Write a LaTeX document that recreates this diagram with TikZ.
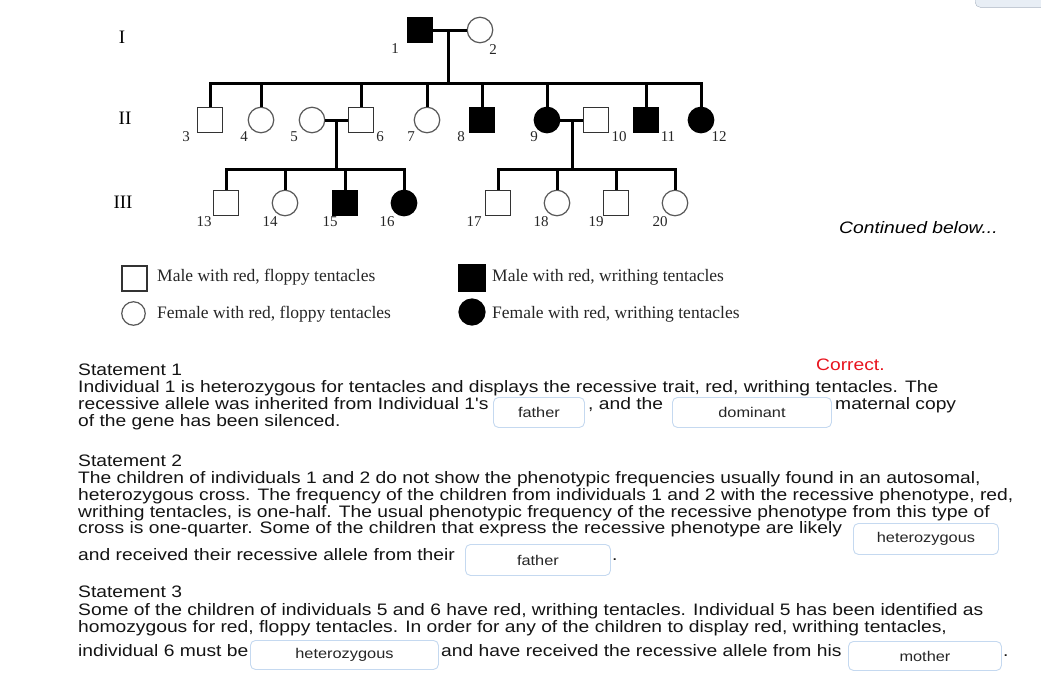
\documentclass[tikz,border=0pt]{standalone}
\usepackage{fontspec}
\setmainfont{Liberation Serif}
\newfontfamily\arialf[FakeStretch=1.16]{Liberation Sans}
\definecolor{boxblue}{HTML}{C5D9F0}
\definecolor{okred}{HTML}{E8141E}
\definecolor{btnfill}{HTML}{E8EEF5}
\definecolor{btnline}{HTML}{A9B3C0}
\begin{document}
\begin{tikzpicture}[x=1pt,y=-1pt,
  male/.style={rectangle,draw=black!80,line width=1.2pt,minimum size=25.5pt,inner sep=0pt,fill=white},
  female/.style={circle,draw=black!65,line width=1.2pt,minimum size=25.5pt,inner sep=0pt,fill=white},
  aff/.style={fill=black,draw=black},
  num/.style={font=\fontsize{15}{15}\selectfont,text=black!85,inner sep=0pt},
  gen/.style={font=\fontsize{19}{19}\selectfont,inner sep=0pt},
  link/.style={line width=3pt},
  legtext/.style={font=\fontsize{17.5}{17.5}\selectfont,text=black!85,anchor=base west,inner sep=0pt},
  stm/.style={font=\arialf\fontsize{16.6}{16.6}\selectfont,anchor=base west,inner sep=0pt,text=black!92},
  ansbox/.style={draw=boxblue,line width=0.9pt,rounded corners=5pt,fill=white,anchor=north west,
    inner sep=0pt,font=\arialf\fontsize{14.1}{14.1}\selectfont,text=black!85}
]
\useasboundingbox (0,0) rectangle (1041,681);
% top-right button fragment
\node[draw=btnline,fill=btnfill,rounded corners=5pt,minimum width=80pt,minimum height=16pt,anchor=south west,inner sep=0pt] (btn) at (975,7.5) {};
% generation labels
\node[gen] (gI) at (122,37) {I};
\node[gen] (gII) at (125,118) {II};
\node[gen] (gIII) at (123,202) {III};
% generation I
\node[male,aff] (p1) at (420,30) {};
\node[female] (p2) at (480,30) {};
% generation II
\node[male] (p3) at (210,120) {};
\node[female] (p4) at (261,120) {};
\node[female] (p5) at (312,120) {};
\node[male] (p6) at (361,120) {};
\node[female] (p7) at (427,120) {};
\node[male,aff] (p8) at (482,120) {};
\node[female,aff] (p9) at (547,120) {};
\node[male] (p10) at (596,120) {};
\node[male,aff] (p11) at (646,120) {};
\node[female,aff] (p12) at (701,120) {};
% generation III
\node[male] (p13) at (226,203) {};
\node[female] (p14) at (285,203) {};
\node[male,aff] (p15) at (345,203) {};
\node[female,aff] (p16) at (404,203) {};
\node[male] (p17) at (498,203) {};
\node[female] (p18) at (557,203) {};
\node[male] (p19) at (616,203) {};
\node[female] (p20) at (675,203) {};
% numbers
\node[num] (n1) at (395,49) {1};
\node[num] (n2) at (493,50) {2};
\node[num] (n3) at (186,137) {3};
\node[num] (n4) at (244,137) {4};
\node[num] (n5) at (294,137) {5};
\node[num] (n6) at (380,137) {6};
\node[num] (n7) at (411,137) {7};
\node[num] (n8) at (461,137) {8};
\node[num] (n9) at (534,137) {9};
\node[num] (n10) at (619,137) {10};
\node[num] (n11) at (668,137) {11};
\node[num] (n12) at (719,137) {12};
\node[num] (n13) at (204,222) {13};
\node[num] (n14) at (270,222) {14};
\node[num] (n15) at (330,222) {15};
\node[num] (n16) at (387,222) {16};
\node[num] (n17) at (474,222) {17};
\node[num] (n18) at (541,222) {18};
\node[num] (n19) at (596,222) {19};
\node[num] (n20) at (660,222) {20};
% connectors
\coordinate (m12) at (448,30);
\coordinate (j1) at (448,83);
\draw[link] (p1.east) -- (p2.west);
\draw[link] (m12) -- (j1);
\draw[link] (p3.north) |- (j1) -| (p12.north);
\foreach \k in {4,6,7,8,9,11} \draw[link] (p\k.north) -- (p\k.north |- j1);
\coordinate (m56) at (336,120);
\coordinate (j2) at (336,169);
\draw[link] (p5.east) -- (p6.west);
\draw[link] (m56) -- (j2);
\draw[link] (p13.north) |- (j2) -| (p16.north);
\foreach \k in {14,15} \draw[link] (p\k.north) -- (p\k.north |- j2);
\coordinate (m910) at (572,120);
\coordinate (j3) at (572,169);
\draw[link] (p9.east) -- (p10.west);
\draw[link] (m910) -- (j3);
\draw[link] (p17.north) |- (j3) -| (p20.north);
\foreach \k in {18,19} \draw[link] (p\k.north) -- (p\k.north |- j3);
% continued
\node[font=\arialf\itshape\fontsize{16.6}{16.6}\selectfont,anchor=base west,inner sep=0pt] (cont) at (839,233) {Continued below...};
% legend
\node[male,minimum size=25pt] (lg1) at (134.5,278.5) {};
\node[female,minimum size=23.5pt] (lg2) at (133.5,313.5) {};
\node[male,aff,minimum size=26pt] (lg3) at (472,278) {};
\node[female,aff,minimum size=26pt] (lg4) at (472,312) {};
\node[legtext] (lt1) at (157,281) {Male with red, floppy tentacles};
\node[legtext] (lt2) at (157,318) {Female with red, floppy tentacles};
\node[legtext] (lt3) at (492,281) {Male with red, writhing tentacles};
\node[legtext] (lt4) at (492,318) {Female with red, writhing tentacles};
% statement 1
\node[stm] (s1h) at (78,375) {Statement 1};
\node[stm,text=okred] (ok) at (816,370) {Correct.};
\node[stm] (s1a) at (78,392) {Individual 1 is heterozygous for tentacles and displays the recessive trait, red, writhing tentacles. The};
\node[stm] (s1b) at (78,409) {recessive allele was inherited from Individual 1's};
\node[ansbox,minimum width=91pt,minimum height=30pt] (b1) at (493,397) {father};
\node[stm] (s1c) at (588,409) {, and the};
\node[ansbox,minimum width=159pt,minimum height=30pt] (b2) at (672,397) {dominant};
\node[stm] (s1d) at (835,409) {maternal copy};
\node[stm] (s1e) at (78,426) {of the gene has been silenced.};
% statement 2
\node[stm] (s2h) at (78,466) {Statement 2};
\node[stm] (s2a) at (78,483) {The children of individuals 1 and 2 do not show the phenotypic frequencies usually found in an autosomal,};
\node[stm] (s2b) at (78,500) {heterozygous cross. The frequency of the children from individuals 1 and 2 with the recessive phenotype, red,};
\node[stm] (s2c) at (78,517) {writhing tentacles, is one-half. The usual phenotypic frequency of the recessive phenotype from this type of};
\node[stm] (s2d) at (78,533) {cross is one-quarter. Some of the children that express the recessive phenotype are likely};
\node[ansbox,minimum width=145pt,minimum height=31pt] (b3) at (853,523) {heterozygous};
\node[stm] (s2e) at (78,560) {and received their recessive allele from their};
\node[ansbox,minimum width=145pt,minimum height=31pt] (b4) at (465,544) {father};
\node[stm] (s2f) at (612,560) {.};
% statement 3
\node[stm] (s3h) at (78,597) {Statement 3};
\node[stm] (s3a) at (78,615) {Some of the children of individuals 5 and 6 have red, writhing tentacles. Individual 5 has been identified as};
\node[stm] (s3b) at (78,632) {homozygous for red, floppy tentacles. In order for any of the children to display red, writhing tentacles,};
\node[stm] (s3c) at (78,656) {individual 6 must be};
\node[ansbox,minimum width=188pt,minimum height=29pt] (b5) at (250,640) {heterozygous};
\node[stm] (s3d) at (441,656) {and have received the recessive allele from his};
\node[ansbox,minimum width=153pt,minimum height=29pt] (b6) at (848,641) {mother};
\node[stm] (s3e) at (1003,656) {.};
\end{tikzpicture}
\end{document}
